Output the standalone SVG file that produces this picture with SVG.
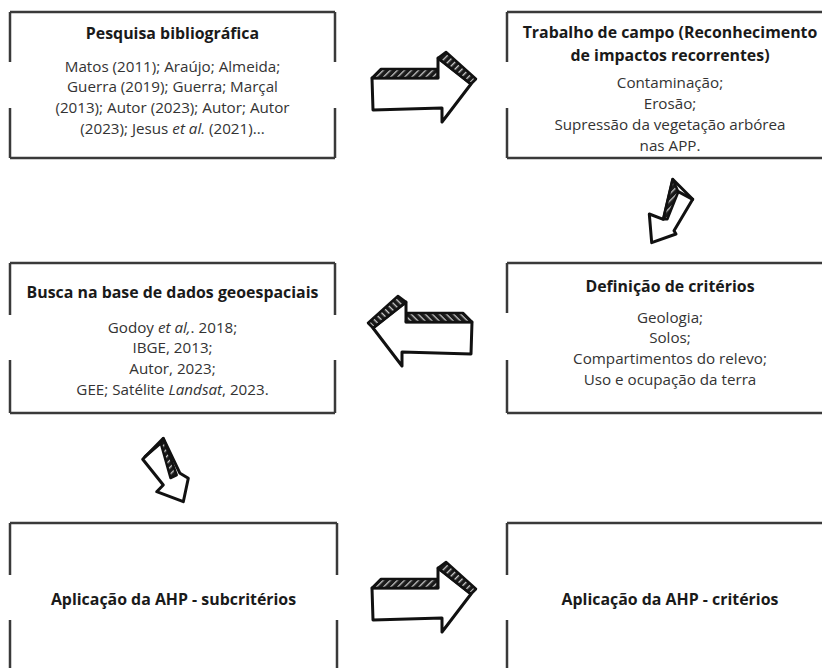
<svg xmlns="http://www.w3.org/2000/svg" xmlns:xlink="http://www.w3.org/1999/xlink" width="822" height="668" viewBox="0 0 822 668">
<style>
.bx{fill:none;stroke:#3a3a3a;stroke-width:2.5;stroke-linecap:butt}
.t{font-family:"Open Sans","Noto Sans","Liberation Sans",sans-serif;font-size:15.2px;text-anchor:middle;fill:#333}
.b{font-weight:700;fill:#1a1a1a;font-size:15.9px}
.i{font-style:italic}
.ar{fill:#fff;stroke:#111;stroke-width:3;stroke-linejoin:round;stroke-linecap:round}
.ht{fill:url(#hatch);stroke:#111;stroke-width:2.5;stroke-linejoin:round}
</style>
<defs>
<pattern id="hatch" width="5" height="5" patternUnits="userSpaceOnUse" patternTransform="rotate(45)">
<rect width="5" height="5" fill="#1a1a1a"/>
<rect x="0" y="0" width="1.3" height="5" fill="#ccc"/>
</pattern>
<g id="arrowR">
<path class="ar" d="M372,78 L438,78 L438,58 L471,84 L442,122 L442,108 L373,110 Z"/>
<path class="ht" d="M372,78 L381,69 L437,69 L438,78 Z"/>
<path class="ht" d="M438,58 L446,52 L476,79 L471,84 Z"/>
</g>
</defs>
<g id="node-pesquisa">
<path class="bx" d="M10,12 H335 M10,158 H335 M10,12 V62 M10,108 V158 M335,12 V62 M335,108 V158"/>
<text class="t b" x="172.5" y="39">Pesquisa bibliográfica</text>
<text class="t" x="172.5" y="71.5">Matos (2011); Araújo; Almeida;<tspan x="172.5" dy="20.8">Guerra (2019); Guerra; Marçal</tspan><tspan x="172.5" dy="20.8">(2013); Autor (2023); Autor; Autor</tspan><tspan x="172.5" dy="20.8">(2023); Jesus <tspan class="i">et al.</tspan> (2021)...</tspan></text>
</g>
<g id="node-trabalho">
<path class="bx" d="M507,12 H833 M507,158 H833 M507,12 V62 M507,108 V158"/>
<text class="t b" x="670" y="38">Trabalho de campo (Reconhecimento<tspan x="670" dy="23">de impactos recorrentes)</tspan></text>
<text class="t" x="670" y="87.5">Contaminação;<tspan x="670" dy="21">Erosão;</tspan><tspan x="670" dy="21">Supressão da vegetação arbórea</tspan><tspan x="670" dy="21">nas APP.</tspan></text>
</g>
<g id="node-busca">
<path class="bx" d="M10,263 H335 M10,413 H335 M10,263 V315 M10,360 V413 M335,263 V315 M335,360 V413"/>
<text class="t b" x="172.5" y="298">Busca na base de dados geoespaciais</text>
<text class="t" x="172.5" y="332.5">Godoy <tspan class="i">et al,</tspan>. 2018;<tspan x="172.5" dy="20.8">IBGE, 2013;</tspan><tspan x="172.5" dy="20.8">Autor, 2023;</tspan><tspan x="172.5" dy="20.8">GEE; Satélite <tspan class="i">Landsat</tspan>, 2023.</tspan></text>
</g>
<g id="node-definicao">
<path class="bx" d="M507,263 H833 M507,413 H833 M507,263 V313 M507,360 V413"/>
<text class="t b" x="670" y="292">Definição de critérios</text>
<text class="t" x="670" y="322.5">Geologia;<tspan x="670" dy="20.8">Solos;</tspan><tspan x="670" dy="20.8">Compartimentos do relevo;</tspan><tspan x="670" dy="20.8">Uso e ocupação da terra</tspan></text>
</g>
<g id="node-ahp-sub">
<path class="bx" d="M10,523 H337 M10,523 V575 M10,620 V670 M337,523 V575 M337,620 V670"/>
<text class="t b" x="173.5" y="605">Aplicação da AHP - subcritérios</text>
</g>
<g id="node-ahp-crit">
<path class="bx" d="M507,523 H833 M507,523 V575 M507,620 V670"/>
<text class="t b" x="670" y="605">Aplicação da AHP - critérios</text>
</g>
<g id="connectors">
<use xlink:href="#arrowR"/>
<use xlink:href="#arrowR" transform="matrix(-1,0,0,1,844,244)"/>
<use xlink:href="#arrowR" transform="translate(0,510)"/>
<g id="arrow-diag1">
<path class="ar" d="M672.7,179.3 L692.7,199.3 L674,230.7 L676,234 L651.7,242.7 L649.3,214 L663.3,219.3 Z"/>
<path class="ht" d="M672.7,179.3 L678.3,191.7 L667.3,219.3 L663.3,219.3 Z"/>
<path class="ar" d="M678.3,191.7 L692.7,199.3" fill="none"/>
</g>
<g id="arrow-diag2">
<path class="ar" d="M163.3,438.3 L180,473.3 L188.3,478.3 L183.3,501.7 L156.7,491.7 L163.3,485 L142.7,459.3 Z"/>
<path class="ht" d="M163.3,438.3 L176.7,475 L170.5,478 L160.7,443 Z"/>
<path class="ar" d="M145,456.7 L160.7,443" fill="none"/>
</g>
</g>
</svg>
